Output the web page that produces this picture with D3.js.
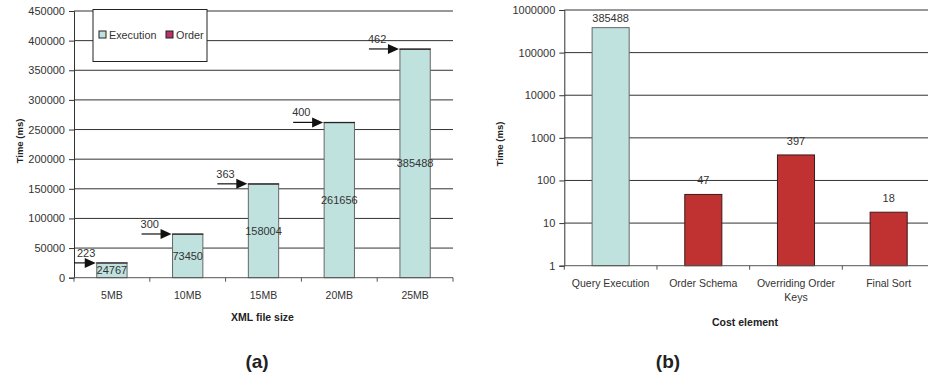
<!DOCTYPE html>
<html>
<head>
<meta charset="utf-8">
<script src="https://cdn.jsdelivr.net/npm/d3@7"></script>
<style>
  html, body { margin: 0; padding: 0; background: #fff; }
  svg { display: block; font-family: Arial, "Liberation Sans", sans-serif; }
</style>
</head>
<body>
<svg id="chart" width="928" height="374"></svg>
<script>
// (a) execution time vs. document size, with ordering overhead stacked on top
const fileSizes = ["5MB", "10MB", "15MB", "20MB", "25MB"];
const executionMs = [24767, 73450, 158004, 261656, 385488];
const orderMs = [223, 300, 363, 400, 462];
const linearTicks = [0, 50000, 100000, 150000, 200000, 250000, 300000, 350000, 400000, 450000];

// (b) cost breakdown for the 25MB document (log scale)
const costElements = ["Query Execution", "Order Schema", "Overriding Order Keys", "Final Sort"];
const costMs = [385488, 47, 397, 18];
const costKinds = ["Execution", "Order", "Order", "Order"];
const logTicks = [1, 10, 100, 1000, 10000, 100000, 1000000];

const seriesNames = ["Execution", "Order"];
const colors = { Execution: "#bfe2df", Order: "#b8336a" };
const costColors = { Execution: "#bfe2df", Order: "#c03232" };

const svg = d3.select("#chart");
const textColor = "#333";

// ---------- Panel (a) ----------
const A = { left: 74, right: 453, top: 11, bottom: 277.7 };
const xa = d3.scaleBand().domain(fileSizes).range([A.left, A.right]).paddingInner(0.6).paddingOuter(0.3);
const ya = d3.scaleLinear().domain([0, 450000]).range([A.bottom, A.top]);

const ga = svg.append("g");

// horizontal gridlines
ga.append("g").selectAll("line").data(linearTicks.filter(d => d > 0)).join("line")
  .attr("x1", A.left).attr("x2", A.right)
  .attr("y1", d => ya(d)).attr("y2", d => ya(d))
  .attr("stroke", "#333").attr("stroke-width", 1);

// y axis
const yAxisA = ga.append("g").attr("transform", `translate(${A.left},0)`)
  .call(d3.axisLeft(ya).tickValues(linearTicks).tickFormat(d3.format("d")).tickSize(5).tickPadding(4));
yAxisA.select(".domain").attr("stroke", "#333");
yAxisA.selectAll(".tick line").attr("stroke", "#333");
yAxisA.selectAll("text").attr("font-size", 11).attr("fill", textColor).attr("font-family", "Arial, 'Liberation Sans', sans-serif");

// stacked bars
const stackRows = fileSizes.map((k, i) => ({ key: k, Execution: executionMs[i], Order: orderMs[i] }));
const stacked = d3.stack().keys(seriesNames)(stackRows);
ga.append("g").selectAll("g").data(stacked).join("g")
  .attr("fill", s => colors[s.key])
  .attr("stroke", s => s.key === "Order" ? "#222" : "#666")
  .selectAll("rect").data(s => s).join("rect")
  .attr("x", d => xa(d.data.key))
  .attr("width", xa.bandwidth())
  .attr("y", d => ya(d[1]))
  .attr("height", d => ya(d[0]) - ya(d[1]));

// execution value labels, centred in the bar
ga.append("g").selectAll("text").data(stackRows).join("text")
  .attr("x", d => xa(d.key) + xa.bandwidth() / 2)
  .attr("y", d => ya(d.Execution / 2))
  .attr("dy", "0.35em")
  .attr("text-anchor", "middle")
  .attr("font-size", 11).attr("fill", textColor)
  .text(d => d.Execution);

// arrows pointing at the order segment, labelled with its value
const arrowG = ga.append("g");
stackRows.forEach(d => {
  const top = ya(d.Execution + d.Order);
  const bx = xa(d.key);
  const tip = bx - 1;
  const start = Math.max(A.left, bx - 31);
  arrowG.append("line")
    .attr("x1", start).attr("x2", tip - 8)
    .attr("y1", top).attr("y2", top)
    .attr("stroke", "#111").attr("stroke-width", 1.2);
  arrowG.append("path")
    .attr("d", `M${tip},${top} L${tip - 11},${top - 5} L${tip - 11},${top + 5} Z`)
    .attr("fill", "#111");
  arrowG.append("text")
    .attr("x", start + 3 - (start === A.left ? 0 : 4))
    .attr("y", top - 6)
    .attr("font-size", 11).attr("fill", textColor)
    .text(d.Order);
});

// x axis with ticks between categories
ga.append("line").attr("x1", A.left).attr("x2", A.right)
  .attr("y1", A.bottom).attr("y2", A.bottom).attr("stroke", "#555");
const boundsA = d3.range(fileSizes.length + 1).map(i => A.left + i * xa.step());
ga.append("g").selectAll("line").data(boundsA).join("line")
  .attr("x1", d => d).attr("x2", d => d)
  .attr("y1", A.bottom).attr("y2", A.bottom + 4).attr("stroke", "#555");
ga.append("g").selectAll("text").data(fileSizes).join("text")
  .attr("x", d => xa(d) + xa.bandwidth() / 2)
  .attr("y", A.bottom + 21)
  .attr("text-anchor", "middle")
  .attr("font-size", 10.5).attr("fill", textColor)
  .text(d => d);

// titles
ga.append("text")
  .attr("x", (A.left + A.right) / 2 - 1).attr("y", 321)
  .attr("text-anchor", "middle").attr("font-weight", "bold")
  .attr("font-size", 10.5).attr("fill", "#222")
  .text("XML file size");
ga.append("text")
  .attr("transform", `translate(23,141) rotate(-90)`)
  .attr("text-anchor", "middle").attr("font-weight", "bold")
  .attr("font-size", 9.5).attr("fill", "#222")
  .text("Time (ms)");

// legend
const lg = ga.append("g");
lg.append("rect").attr("x", 93).attr("y", 9.5).attr("width", 114).attr("height", 52)
  .attr("fill", "#fff").attr("stroke", "#222");
const legendX = [99, 166];
seriesNames.forEach((name, i) => {
  lg.append("rect").attr("x", legendX[i]).attr("y", 31).attr("width", 7).attr("height", 7)
    .attr("fill", colors[name]).attr("stroke", "#222");
  lg.append("text").attr("x", legendX[i] + 10).attr("y", 38.5)
    .attr("font-size", 10.8).attr("fill", textColor).text(name);
});

ga.append("text")
  .attr("x", 257).attr("y", 368)
  .attr("text-anchor", "middle").attr("font-weight", "bold")
  .attr("font-size", 19).attr("fill", "#222")
  .text("(a)");

// ---------- Panel (b) ----------
const B = { left: 564.3, right: 935, top: 10, bottom: 265.7 };
const xb = d3.scaleBand().domain(costElements).range([B.left, B.right]).paddingInner(0.6).paddingOuter(0.3);
const yb = d3.scaleLog().domain([1, 1000000]).range([B.bottom, B.top]);

const gb = svg.append("g");

gb.append("g").selectAll("line").data(logTicks.filter(d => d > 1)).join("line")
  .attr("x1", B.left).attr("x2", B.right)
  .attr("y1", d => yb(d)).attr("y2", d => yb(d))
  .attr("stroke", "#333").attr("stroke-width", 1);

const yAxisB = gb.append("g").attr("transform", `translate(${B.left},0)`)
  .call(d3.axisLeft(yb).tickValues(logTicks).tickFormat(d3.format("d")).tickSize(5).tickPadding(4));
yAxisB.select(".domain").attr("stroke", "#333");
yAxisB.selectAll(".tick line").attr("stroke", "#333");
yAxisB.selectAll("text").attr("font-size", 11).attr("fill", textColor).attr("font-family", "Arial, 'Liberation Sans', sans-serif");

const costRows = costElements.map((c, i) => ({ key: c, value: costMs[i], kind: costKinds[i] }));
gb.append("g").selectAll("rect").data(costRows).join("rect")
  .attr("x", d => xb(d.key))
  .attr("width", xb.bandwidth())
  .attr("y", d => yb(d.value))
  .attr("height", d => yb(1) - yb(d.value))
  .attr("fill", d => costColors[d.kind])
  .attr("stroke", d => d.kind === "Order" ? "#3a1a1a" : "#666");

gb.append("g").selectAll("text").data(costRows).join("text")
  .attr("x", d => xb(d.key) + xb.bandwidth() / 2)
  .attr("y", d => Math.max(yb(d.value) - 10, B.top + 12))
  .attr("text-anchor", "middle")
  .attr("font-size", 11).attr("fill", textColor)
  .text(d => d.value);

gb.append("line").attr("x1", B.left).attr("x2", B.right)
  .attr("y1", B.bottom).attr("y2", B.bottom).attr("stroke", "#555");
const boundsB = d3.range(costElements.length + 1).map(i => B.left + i * xb.step());
gb.append("g").selectAll("line").data(boundsB).join("line")
  .attr("x1", d => d).attr("x2", d => d)
  .attr("y1", B.bottom).attr("y2", B.bottom + 4).attr("stroke", "#555");

// category labels, wrapped to the band width
const catLabels = gb.append("g").selectAll("text").data(costElements).join("text")
  .attr("x", d => xb(d) + xb.bandwidth() / 2)
  .attr("y", B.bottom + 21)
  .attr("text-anchor", "middle")
  .attr("font-size", 10.5).attr("fill", textColor);
catLabels.each(function(d) {
  const el = d3.select(this);
  const cx = +el.attr("x");
  const words = d.split(" ");
  const maxW = xb.step() - 4;
  let lines = [[]];
  const probe = el.append("tspan");
  words.forEach(w => {
    const cur = lines[lines.length - 1];
    probe.text([...cur, w].join(" "));
    if (cur.length && probe.node().getComputedTextLength() > maxW) lines.push([w]);
    else cur.push(w);
  });
  probe.remove();
  lines.forEach((ln, i) => {
    el.append("tspan").attr("x", cx).attr("dy", i === 0 ? 0 : 14.5).text(ln.join(" "));
  });
});

gb.append("text")
  .attr("x", 745).attr("y", 325.5)
  .attr("text-anchor", "middle").attr("font-weight", "bold")
  .attr("font-size", 10.5).attr("fill", "#222")
  .text("Cost element");
gb.append("text")
  .attr("transform", `translate(503,144) rotate(-90)`)
  .attr("text-anchor", "middle").attr("font-weight", "bold")
  .attr("font-size", 9.5).attr("fill", "#222")
  .text("Time (ms)");

gb.append("text")
  .attr("x", 668).attr("y", 368)
  .attr("text-anchor", "middle").attr("font-weight", "bold")
  .attr("font-size", 19).attr("fill", "#222")
  .text("(b)");
</script>
</body>
</html>
